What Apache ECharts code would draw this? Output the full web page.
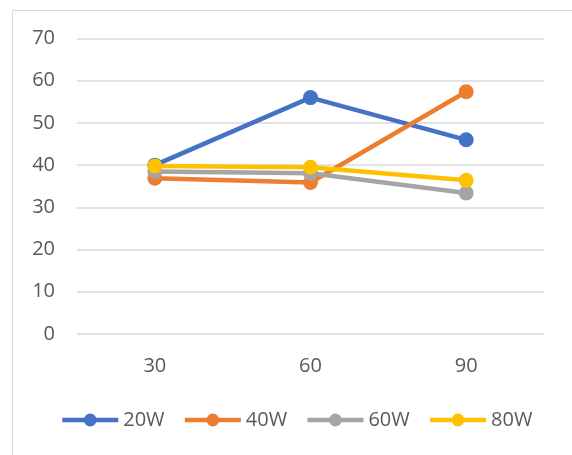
<!DOCTYPE html>
<html><head><meta charset="utf-8">
<script src="https://cdn.jsdelivr.net/npm/echarts@6/dist/echarts.min.js"></script>
<style>html,body{margin:0;padding:0;background:#fff}#c{width:572px;height:455px}</style>
</head><body><div id="c"></div>
<script>
var categories = ['30', '60', '90'];
var seriesNames = ['20W', '40W', '60W', '80W'];
var s20W = [40, 56, 46];
var s40W = [36.9, 35.9, 57.4];
var s60W = [38.5, 38.1, 33.4];
var s80W = [39.8, 39.5, 36.4];
var yTicks = [0, 10, 20, 30, 40, 50, 60, 70];
var colors = ['#4472C4', '#ED7D31', '#A5A5A5', '#FFC000'];
var values = [s20W, s40W, s60W, s80W];

var chart = echarts.init(document.getElementById('c'), null, {renderer: 'canvas'});
var font = 'Open Sans, Noto Sans, sans-serif';
chart.setOption({
  animation: false,
  color: colors,
  graphic: [{
    type: 'rect', shape: {x: 12.5, y: 10.5, width: 600, height: 500},
    style: {fill: 'none', stroke: '#D9D9D9', lineWidth: 1}, silent: true
  }],
  grid: {left: 77, right: 28, top: 38.5, bottom: 121, containLabel: false},
  legend: {
    top: 405, left: 55, itemWidth: 56, itemHeight: 16, itemGap: 18,
    lineStyle: {width: 4.5},
    textStyle: {color: '#595959', fontSize: 20, fontFamily: font},
    data: seriesNames
  },
  xAxis: {
    type: 'category', data: categories, boundaryGap: true,
    axisLine: {show: false}, axisTick: {show: false},
    axisLabel: {color: '#595959', fontSize: 20, fontFamily: font, margin: 22}
  },
  yAxis: {
    type: 'value', min: 0, max: 70, interval: 10,
    axisLine: {show: false}, axisTick: {show: false},
    axisLabel: {color: '#595959', fontSize: 20, fontFamily: font, margin: 22,
      formatter: function (v) { return yTicks.indexOf(v) >= 0 ? String(v) : ''; }},
    splitLine: {lineStyle: {color: '#D9D9D9', width: 1.5}}
  },
  series: seriesNames.map(function (n, i) {
    return {
      name: n, type: 'line', data: values[i],
      symbol: 'circle', symbolSize: 15,
      lineStyle: {width: 4.5, color: colors[i]},
      itemStyle: {color: colors[i]},
      z: 2 + i
    };
  })
});
</script></body></html>
